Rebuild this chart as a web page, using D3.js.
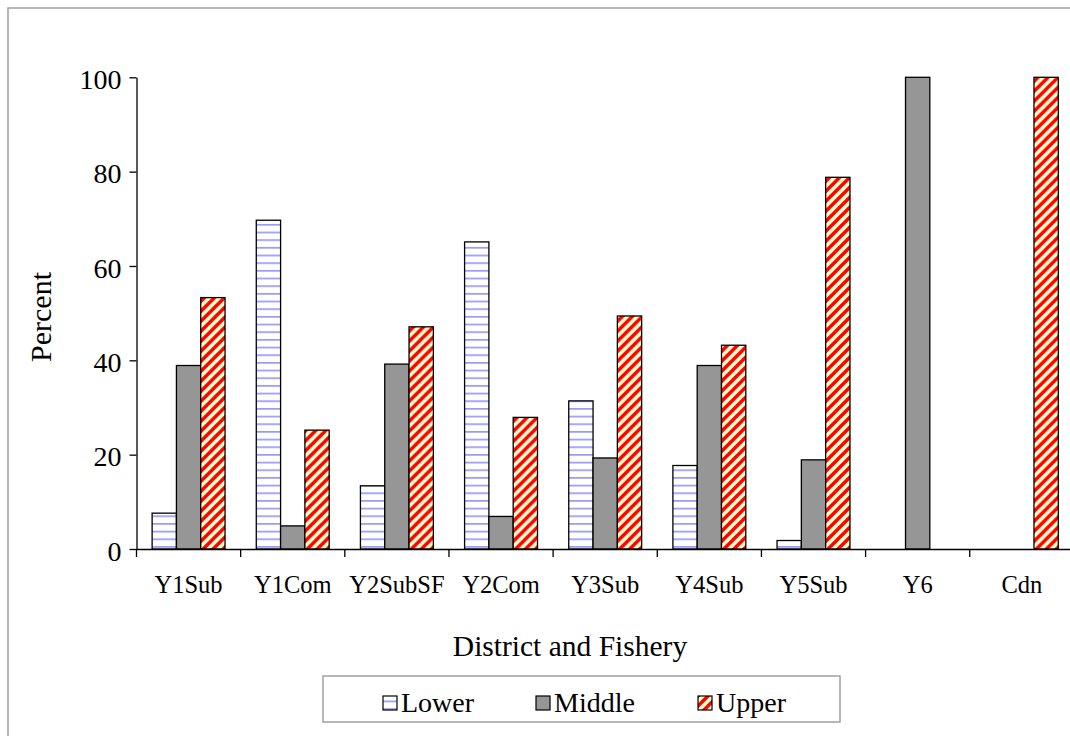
<!DOCTYPE html>
<html>
<head>
<meta charset="utf-8">
<script src="https://cdn.jsdelivr.net/npm/d3@7"></script>
<style>
  html, body { margin: 0; padding: 0; background: #fff; }
  svg { display: block; font-family: "Liberation Serif", "Times New Roman", serif; }
</style>
</head>
<body>
<svg id="chart" width="1070" height="736"></svg>
<script>
// Share of catch by stock group, per district and fishery (percent)
const categories = ["Y1Sub", "Y1Com", "Y2SubSF", "Y2Com", "Y3Sub", "Y4Sub", "Y5Sub", "Y6", "Cdn"];
const seriesNames = ["Lower", "Middle", "Upper"];
const lowerValues  = [7.6, 69.7, 13.4, 65.1, 31.4, 17.7, 1.8, 0, 0];
const middleValues = [38.9, 4.9, 39.2, 6.9, 19.3, 38.9, 18.9, 100, 0];
const upperValues  = [53.3, 25.2, 47.1, 27.9, 49.4, 43.2, 78.8, 0, 100];
const yTicks = [0, 20, 40, 60, 80, 100];

const seriesValues = [lowerValues, middleValues, upperValues];
const rows = categories.map((c, i) => ({
  category: c,
  values: seriesNames.map((s, k) => ({ series: s, value: seriesValues[k][i] }))
}));

const svg = d3.select("#chart");
const defs = svg.append("defs");

// Fill patterns: blue horizontal rules for Lower, red diagonal stripes for Upper
const pLower = defs.append("pattern")
  .attr("id", "fill-lower").attr("patternUnits", "userSpaceOnUse")
  .attr("width", 8).attr("height", 7.67)
  .attr("patternTransform", "translate(0,1.5)");
pLower.append("rect").attr("width", 8).attr("height", 7.67).attr("fill", "#ffffff");
pLower.append("rect").attr("y", 0).attr("width", 8).attr("height", 1.7).attr("fill", "#9999ff");

const stripe = 10;
const pUpper = defs.append("pattern")
  .attr("id", "fill-upper").attr("patternUnits", "userSpaceOnUse")
  .attr("width", stripe).attr("height", stripe);
pUpper.append("rect").attr("width", stripe).attr("height", stripe).attr("fill", "#ffffcc");
pUpper.append("path")
  .attr("d", `M0,${stripe} L${stripe},0 M${-stripe/2},${stripe/2} L${stripe/2},${-stripe/2} M${stripe/2},${stripe*1.5} L${stripe*1.5},${stripe/2}`)
  .attr("stroke", "#ff0000").attr("stroke-width", stripe * 0.34)
  .attr("stroke-linecap", "square");

const fills = { Lower: "url(#fill-lower)", Middle: "#969696", Upper: "url(#fill-upper)" };

// Outer chart frame
svg.append("rect")
  .attr("x", 8).attr("y", 8).attr("width", 1080).attr("height", 740)
  .attr("fill", "none").attr("stroke", "#a0a0a0").attr("stroke-width", 1.5);

const plotLeft = 136.5, plotRight = 1073.9, plotTop = 77.3, plotBottom = 549;

const x0 = d3.scaleBand().domain(categories).range([plotLeft, plotRight])
  .paddingInner(0.3).paddingOuter(0.15);
const x1 = d3.scaleBand().domain(seriesNames).range([0, x0.bandwidth()]).padding(0);
const y = d3.scaleLinear().domain([0, 100]).range([plotBottom, plotTop]);

// Bars
const groups = svg.append("g").selectAll("g").data(rows).join("g")
  .attr("transform", d => `translate(${x0(d.category)},0)`);
groups.selectAll("rect").data(d => d.values.filter(v => v.value > 0)).join("rect")
  .attr("x", v => x1(v.series))
  .attr("y", v => y(v.value))
  .attr("width", x1.bandwidth())
  .attr("height", v => y(0) - y(v.value))
  .attr("fill", v => fills[v.series])
  .attr("stroke", "#000").attr("stroke-width", 1.3);

// Y axis
const yAxis = svg.append("g").attr("transform", `translate(${plotLeft},0)`)
  .call(d3.axisLeft(y).tickValues(yTicks).tickSize(7).tickSizeOuter(0).tickPadding(8));
yAxis.select(".domain").attr("stroke", "#000").attr("stroke-width", 1.3);
yAxis.selectAll(".tick line").attr("stroke", "#000").attr("stroke-width", 1.3);
yAxis.selectAll(".tick text")
  .attr("font-family", "Liberation Serif, Times New Roman, serif")
  .attr("font-size", 28).attr("fill", "#000").attr("dy", "0.4em");

// X axis: baseline, boundary ticks, centred labels
const xAxis = svg.append("g").attr("transform", `translate(0,${plotBottom})`)
  .call(d3.axisBottom(x0).tickSize(0).tickSizeOuter(0).tickPadding(27));
xAxis.select(".domain").attr("stroke", "#000").attr("stroke-width", 1.3);
xAxis.selectAll(".tick text")
  .attr("font-family", "Liberation Serif, Times New Roman, serif")
  .attr("font-size", 24.5).attr("fill", "#000");
const step = x0.step();
const boundaries = categories.map(c => x0(c) - step * x0.paddingInner() / 2);
xAxis.append("g").selectAll("line").data(boundaries).join("line")
  .attr("x1", d => d).attr("x2", d => d)
  .attr("y1", 0).attr("y2", 8)
  .attr("stroke", "#000").attr("stroke-width", 1.3);

// Axis titles
svg.append("text")
  .attr("x", 570).attr("y", 656)
  .attr("text-anchor", "middle")
  .attr("font-size", 29.5).attr("fill", "#000")
  .text("District and Fishery");
svg.append("text")
  .attr("transform", "translate(51,317) rotate(-90)")
  .attr("text-anchor", "middle")
  .attr("font-size", 30).attr("fill", "#000")
  .text("Percent");

// Legend
const legend = svg.append("g").attr("transform", "translate(323,676)");
legend.append("rect")
  .attr("width", 517).attr("height", 46)
  .attr("fill", "#fff").attr("stroke", "#a0a0a0").attr("stroke-width", 1.5);
const legendX = [60, 213, 375];
const items = legend.selectAll("g.item").data(seriesNames).join("g")
  .attr("class", "item")
  .attr("transform", (d, i) => `translate(${legendX[i]},0)`);
items.append("rect")
  .attr("x", 0).attr("y", 20).attr("width", 14).attr("height", 14)
  .attr("fill", d => fills[d]).attr("stroke", "#000").attr("stroke-width", 1.2);
items.append("text")
  .attr("x", 18).attr("y", 36)
  .attr("font-size", 28).attr("fill", "#000")
  .text(d => d);
</script>
</body>
</html>
